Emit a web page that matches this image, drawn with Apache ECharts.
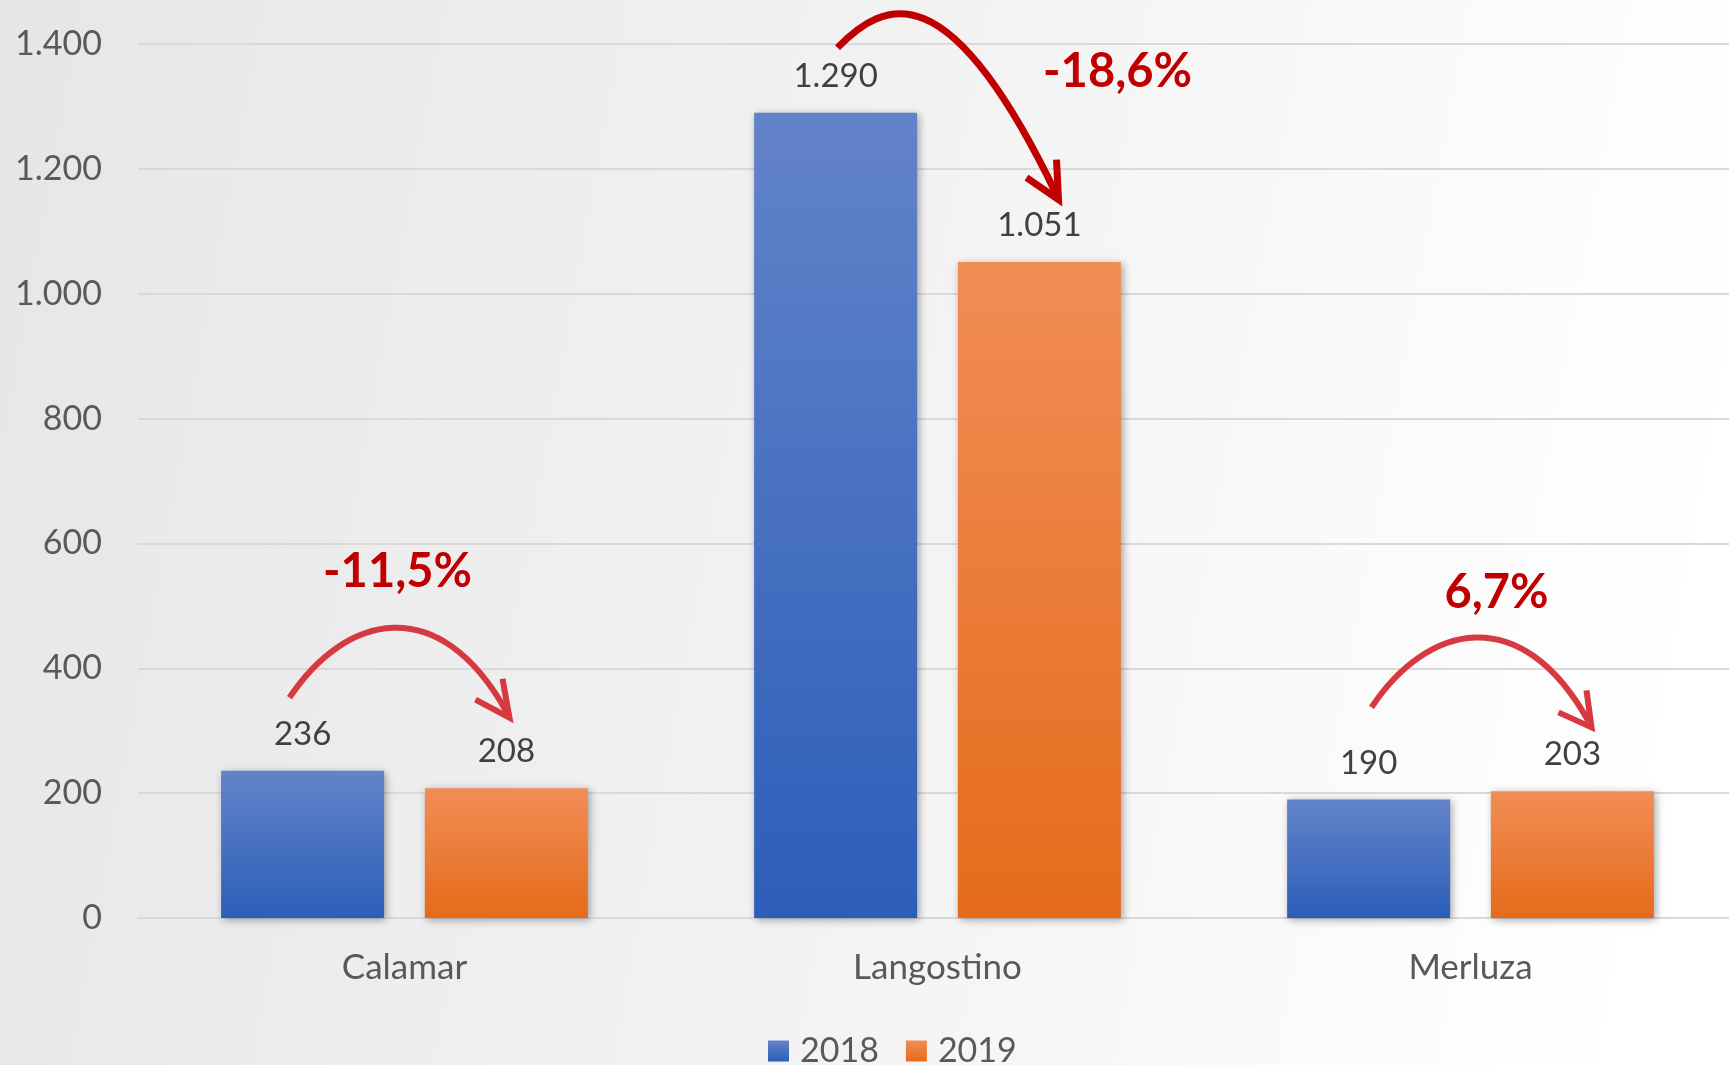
<!DOCTYPE html>
<html>
<head>
<meta charset="utf-8">
<script src="https://cdn.jsdelivr.net/npm/echarts@6/dist/echarts.min.js"></script>
<style>
  html, body { margin: 0; padding: 0; overflow: hidden; }
  #chart { width: 1745px; height: 1065px; }
</style>
</head>
<body>
<div id="chart"></div>
<script>
var categories = ['Calamar', 'Langostino', 'Merluza'];
var years = ['2018', '2019'];
var values2018 = [236, 1290, 190];
var values2019 = [208, 1051, 203];
var changeLabels = ['-11,5%', '-18,6%', '6,7%'];

var myChart = echarts.init(document.getElementById('chart'));

function fmt(v) {
    return String(v).replace(/\B(?=(\d{3})+(?!\d))/g, '.');
}

function grad(top, bottom) {
    return new echarts.graphic.LinearGradient(0, 0, 0, 1, [
        { offset: 0, color: top },
        { offset: 1, color: bottom }
    ]);
}

var labelStyle = {
    show: true,
    position: 'top',
    distance: 20,
    fontFamily: 'Lato',
    fontSize: 33,
    color: '#404040',
    formatter: function (p) { return fmt(p.value); }
};

var option = {
    backgroundColor: new echarts.graphic.LinearGradient(0, 0, 1, 0.3, [
        { offset: 0, color: '#e6e6e6' },
        { offset: 0.55, color: '#f3f3f3' },
        { offset: 1, color: '#ffffff' }
    ]),
    animation: false,
    grid: {
        left: 138,
        top: 44,
        width: 1599,
        height: 874
    },
    legend: {
        data: years,
        left: 763,
        top: 1029,
        itemWidth: 21,
        itemHeight: 21,
        itemGap: 27,
        icon: 'rect',
        textStyle: {
            fontFamily: 'Lato',
            fontSize: 34,
            color: '#595959',
            padding: [0, 0, 0, 6]
        }
    },
    xAxis: {
        type: 'category',
        data: categories,
        axisTick: { show: false },
        axisLine: { show: true, lineStyle: { color: '#d9d9d9', width: 2 } },
        axisLabel: {
            margin: 32,
            fontFamily: 'Lato',
            fontSize: 35,
            color: '#595959'
        }
    },
    yAxis: {
        type: 'value',
        min: 0,
        max: 1400,
        interval: 200,
        axisLine: { show: false },
        axisTick: { show: false },
        splitLine: { lineStyle: { color: '#d9d9d9', width: 2 } },
        axisLabel: {
            margin: 36,
            fontFamily: 'Lato',
            fontSize: 34,
            color: '#595959',
            formatter: fmt
        }
    },
    series: [
        {
            name: '2018',
            type: 'bar',
            data: values2018,
            barWidth: 163,
            barGap: '25%',
            itemStyle: {
                color: grad('#6383c9', '#2c5eb9'),
                shadowBlur: 8,
                shadowColor: 'rgba(0,0,0,0.35)',
                shadowOffsetX: 2,
                shadowOffsetY: 2
            },
            label: labelStyle
        },
        {
            name: '2019',
            type: 'bar',
            data: values2019,
            barWidth: 163,
            barGap: '25%',
            itemStyle: {
                color: grad('#f28d56', '#e46b1a'),
                shadowBlur: 8,
                shadowColor: 'rgba(0,0,0,0.35)',
                shadowOffsetX: 2,
                shadowOffsetY: 2
            },
            label: labelStyle
        }
    ]
};

myChart.setOption(option);

// curved arrows + change labels, offsets relative to (category centre, top of 2018 bar)
var arrows = [
    { color: '#d63a40', width: 6, text: [-7, -199],
      curve: [[-115, -73], [-60, -156], [34, -181], [102, -59]],
      head: [[98, -92], [105, -53], [71, -71]] },
    { color: '#c00000', width: 7, text: [180, -41],
      curve: [[-100, -65], [-53, -113], [11, -143], [119, 82]],
      head: [[119, 47], [121, 87], [89, 65]] },
    { color: '#d63a40', width: 6, text: [26, -207],
      curve: [[-99, -92], [-44, -175], [50, -200], [118, -78]],
      head: [[116, -109], [121, -72], [88, -87]] }
];

var elements = [];
categories.forEach(function (c, i) {
    var p = myChart.convertToPixel({ xAxisIndex: 0, yAxisIndex: 0 }, [i, values2018[i]]);
    var a = arrows[i];
    function at(o) { return [p[0] + o[0], p[1] + o[1]]; }
    var s = at(a.curve[0]), c1 = at(a.curve[1]), c2 = at(a.curve[2]), e = at(a.curve[3]);
    elements.push({
        type: 'bezierCurve',
        shape: { x1: s[0], y1: s[1], cpx1: c1[0], cpy1: c1[1], cpx2: c2[0], cpy2: c2[1], x2: e[0], y2: e[1] },
        style: { stroke: a.color, lineWidth: a.width, fill: null }
    });
    elements.push({
        type: 'polyline',
        shape: { points: a.head.map(at) },
        style: { stroke: a.color, lineWidth: a.width, fill: null, lineJoin: 'miter' }
    });
    var t = at(a.text);
    elements.push({
        type: 'text',
        x: t[0],
        y: t[1],
        style: {
            text: changeLabels[i],
            fill: '#c00000',
            font: 'bold 47px Lato',
            align: 'center',
            verticalAlign: 'middle'
        }
    });
});

myChart.setOption({ graphic: { elements: elements } });
</script>
</body>
</html>
